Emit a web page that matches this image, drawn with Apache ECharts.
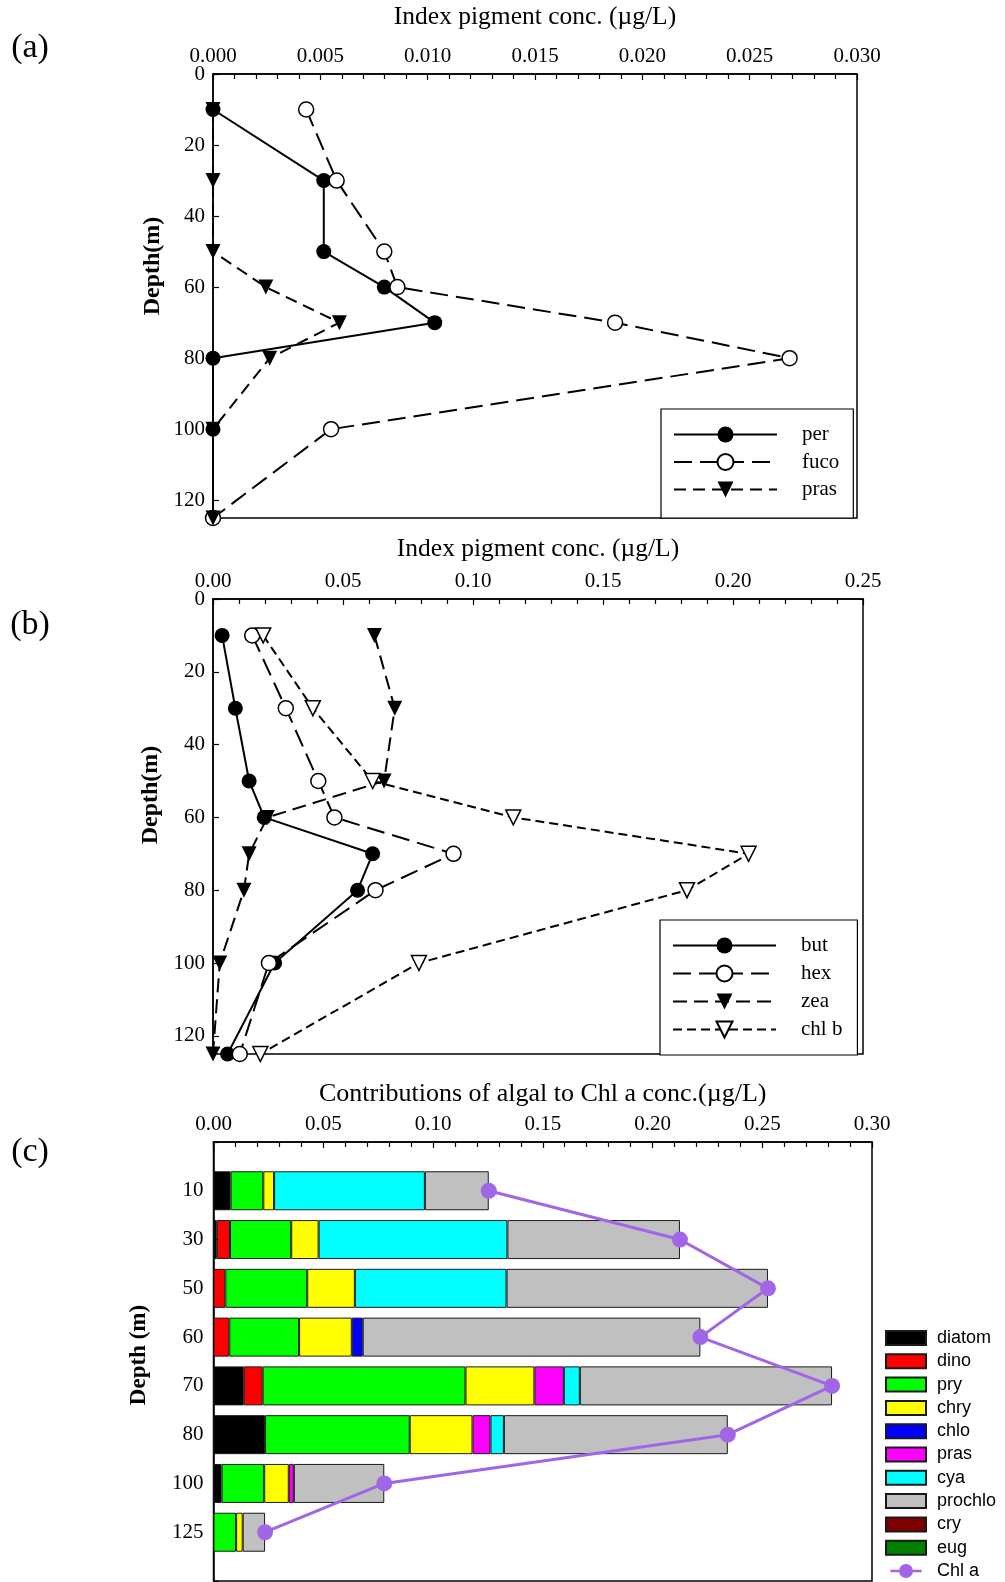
<!DOCTYPE html>
<html><head><meta charset="utf-8">
<script src="https://cdn.jsdelivr.net/npm/echarts@6/dist/echarts.min.js"></script>
<style>html,body{margin:0;padding:0;background:#fff}#c{width:1005px;height:1582px}</style>
</head><body><div id="c"></div><script>
// ---------- Panel (a) ----------
const depthsA = [10, 30, 50, 60, 70, 80, 100, 125];
const per  = [0, 0.00516, 0.00516, 0.00798, 0.01033, 0, 0, 0];
const fuco = [0.00434, 0.00576, 0.00798, 0.00859, 0.01873, 0.02686, 0.00550, 0];
const pras = [0, 0, 0, 0.00246, 0.00589, 0.00264, 0, 0];
const ticksA = [0, 0.005, 0.010, 0.015, 0.020, 0.025, 0.030];

// ---------- Panel (b) ----------
const depthsB = [10, 30, 50, 60, 70, 80, 100, 125];
const but  = [0.0035, 0.0086, 0.0139, 0.0197, 0.0614, 0.0556, 0.0237, 0.0056];
const hex  = [0.0151, 0.0280, 0.0405, 0.0467, 0.0925, 0.0625, 0.0215, 0.0103];
const zea  = [0.0621, 0.0699, 0.0658, 0.0209, 0.0139, 0.0119, 0.0026, 0];
const chlb = [0.0193, 0.0384, 0.0614, 0.1155, 0.2060, 0.1823, 0.0792, 0.0182];
const ticksB = [0, 0.05, 0.10, 0.15, 0.20, 0.25];

// ---------- Panel (c) ----------
const depthsC = ['10', '30', '50', '60', '70', '80', '100', '125'];
const diatom  = [0.0078, 0.0015, 0, 0, 0.0138, 0.0235, 0.0037, 0];
const dino    = [0, 0.0060, 0.0054, 0.0072, 0.0086, 0, 0, 0];
const pry     = [0.0149, 0.0279, 0.0373, 0.0318, 0.0924, 0.0659, 0.0194, 0.0103];
const chry    = [0.0049, 0.0125, 0.0217, 0.0240, 0.0314, 0.0286, 0.0112, 0.0030];
const chlo    = [0, 0, 0, 0.0050, 0, 0, 0, 0];
const prasC   = [0, 0, 0, 0, 0.0134, 0.0082, 0.0023, 0];
const cya     = [0.0687, 0.0860, 0.0691, 0, 0.0073, 0.0061, 0, 0];
const prochlo = [0.0291, 0.0786, 0.1191, 0.1538, 0.1149, 0.1020, 0.0412, 0.0102];
const cry     = [0, 0, 0, 0, 0, 0, 0, 0];
const eug     = [0, 0, 0, 0, 0, 0, 0, 0];
const chla    = [0.1254, 0.2125, 0.2526, 0.2218, 0.2818, 0.2343, 0.0778, 0.0235];
const ticksC = [0, 0.05, 0.10, 0.15, 0.20, 0.25, 0.30];

const serif = '"Liberation Serif", "Times New Roman", serif';
const sans = '"Liberation Sans", Arial, sans-serif';

function xAxisCfg(gi, ticks, dec, title, gap, margin, tfs) {
  return {
    type: 'value', gridIndex: gi, position: 'top',
    min: ticks[0], max: ticks[ticks.length - 1], interval: ticks[1] - ticks[0],
    name: title, nameLocation: 'middle', nameGap: gap,
    nameTextStyle: { fontFamily: serif, fontSize: tfs, color: '#000' },
    axisLine: { show: true, lineStyle: { color: '#000', width: 1.5 } },
    axisTick: { show: true, inside: true, length: 6, lineStyle: { color: '#000', width: 1.2 } },
    minorTick: { show: true, splitNumber: 5, length: 5, lineStyle: { color: '#000', width: 1.2 } },
    splitLine: { show: false }, minorSplitLine: { show: false },
    axisLabel: { margin: margin, fontFamily: serif, fontSize: 21, color: '#000',
      formatter: v => v.toFixed(dec) }
  };
}
function yAxisVal(gi) {
  return {
    type: 'value', gridIndex: gi, inverse: true, min: 0, max: 125, interval: 20,
    axisLine: { show: true, lineStyle: { color: '#000', width: 1.5 } },
    axisTick: { show: true, inside: true, length: 6, lineStyle: { color: '#000', width: 1.2 } },
    splitLine: { show: false },
    axisLabel: { margin: 8, fontFamily: serif, fontSize: 21, color: '#000', showMaxLabel: false }
  };
}
function lineSeries(name, xi, depths, vals, opts) {
  return Object.assign({
    type: 'line', name: name, xAxisIndex: xi, yAxisIndex: xi,
    data: depths.map((d, i) => [vals[i], d]),
    symbolSize: 15, clip: false, silent: true,
    lineStyle: { color: '#000', width: 2 },
    itemStyle: { color: '#000' }
  }, opts);
}
const openItem = { color: '#fff', borderColor: '#000', borderWidth: 1.5 };
const downTri = { symbol: 'triangle', symbolRotate: 180 };

const catC = [''].concat(depthsC).concat(['']);
const pad = arr => ['-'].concat(arr.map(v => v > 0 ? v : '-')).concat(['-']);
function barSeries(name, vals, color) {
  return { type: 'bar', name: name, stack: 'c', xAxisIndex: 2, yAxisIndex: 2,
    barWidth: 39, silent: true, data: pad(vals),
    itemStyle: { color: color, borderColor: '#1a1a1a', borderWidth: 1 } };
}

const legendText = (fs, ff, lh, pl) => ({ fontFamily: ff, fontSize: fs, color: '#000', lineHeight: lh, padding: [0, 0, 0, pl] });

const option = {
  animation: false,
  backgroundColor: '#fff',
  grid: [
    { left: 213, top: 74, width: 644, height: 444, show: true, borderColor: '#000', borderWidth: 1.5, backgroundColor: 'transparent', outerBoundsMode: 'none' },
    { left: 213, top: 599, width: 650, height: 455, show: true, borderColor: '#000', borderWidth: 1.5, backgroundColor: 'transparent', outerBoundsMode: 'none' },
    { left: 213.5, top: 1142, width: 658.5, height: 439, show: true, borderColor: '#000', borderWidth: 1.5, backgroundColor: 'transparent', outerBoundsMode: 'none' }
  ],
  xAxis: [
    xAxisCfg(0, ticksA, 3, 'Index pigment conc. (\u00b5g/L)', 44, 7, 25.5),
    xAxisCfg(1, ticksB, 2, 'Index pigment conc. (\u00b5g/L)', 37, 7.5, 25.5),
    xAxisCfg(2, ticksC, 2, 'Contributions of algal to Chl a conc.(\u00b5g/L)', 35, 7.5, 26)
  ],
  yAxis: [
    yAxisVal(0), yAxisVal(1),
    { type: 'category', gridIndex: 2, inverse: true, data: catC, boundaryGap: false,
      axisLine: { show: true, lineStyle: { color: '#000', width: 1.5 } },
      axisTick: { show: true, inside: true, length: 5, interval: 0, lineStyle: { color: '#000', width: 1.2 } },
      splitLine: { show: false },
      axisLabel: { interval: 0, margin: 10, fontFamily: serif, fontSize: 21, color: '#000' } }
  ],
  legend: [
    { data: ['per', 'fuco', 'pras'], orient: 'vertical', left: 661, top: 409,
      itemWidth: 103, itemHeight: 20, itemGap: 6.5, padding: [15, 14, 18, 12],
      borderColor: '#000', borderWidth: 1.2, backgroundColor: '#fff', selectedMode: false,
      symbolRotate: 'inherit', textStyle: legendText(21, serif, 20, 20) },
    { data: ['but', 'hex', 'zea', 'chl b'], orient: 'vertical', left: 660, top: 920,
      itemWidth: 103, itemHeight: 20, itemGap: 7, padding: [15, 15, 15, 12],
      borderColor: '#000', borderWidth: 1.2, backgroundColor: '#fff', selectedMode: false,
      symbolRotate: 'inherit', textStyle: legendText(21, serif, 20, 20) },
    { data: ['diatom', 'dino', 'pry', 'chry', 'chlo', 'pras ', 'cya', 'prochlo', 'cry', 'eug',
        { name: 'Chl a', icon: 'path://M0,7L40,7L40,10L0,10Z M11,8.5A9,9 0 1,1 29,8.5A9,9 0 1,1 11,8.5Z' }],
      orient: 'vertical', left: 885, top: 1329, icon: 'rect',
      itemWidth: 40, itemHeight: 14, itemGap: 5.3, padding: 0, selectedMode: false,
      formatter: n => n.trim(), textStyle: legendText(18, sans, 18, 6) }
  ],
  graphic: [
    { type: 'text', x: 30, y: 48, style: { text: '(a)', font: '34px ' + serif, fill: '#000', align: 'center', verticalAlign: 'middle' } },
    { type: 'text', x: 30, y: 625, style: { text: '(b)', font: '34px ' + serif, fill: '#000', align: 'center', verticalAlign: 'middle' } },
    { type: 'text', x: 30, y: 1152, style: { text: '(c)', font: '34px ' + serif, fill: '#000', align: 'center', verticalAlign: 'middle' } },
    { type: 'text', x: 153, y: 266, rotation: Math.PI / 2, style: { text: 'Depth(m)', font: 'bold 24px ' + serif, fill: '#000', align: 'center', verticalAlign: 'middle' } },
    { type: 'text', x: 151, y: 795, rotation: Math.PI / 2, style: { text: 'Depth(m)', font: 'bold 24px ' + serif, fill: '#000', align: 'center', verticalAlign: 'middle' } },
    { type: 'text', x: 139, y: 1355, rotation: Math.PI / 2, style: { text: 'Depth (m)', font: 'bold 23px ' + serif, fill: '#000', align: 'center', verticalAlign: 'middle' } }
  ],
  series: [
    lineSeries('per', 0, depthsA, per, { symbol: 'circle' }),
    lineSeries('fuco', 0, depthsA, fuco, { symbol: 'circle', itemStyle: openItem, lineStyle: { color: '#000', width: 2, type: [18, 8] } }),
    lineSeries('pras', 0, depthsA, pras, Object.assign({ lineStyle: { color: '#000', width: 2, type: [12, 7] } }, downTri)),

    lineSeries('but', 1, depthsB, but, { symbol: 'circle' }),
    lineSeries('hex', 1, depthsB, hex, { symbol: 'circle', itemStyle: openItem, lineStyle: { color: '#000', width: 2, type: [18, 8] } }),
    lineSeries('zea', 1, depthsB, zea, Object.assign({ lineStyle: { color: '#000', width: 2, type: [14, 7] } }, downTri)),
    lineSeries('chl b', 1, depthsB, chlb, Object.assign({ itemStyle: openItem, lineStyle: { color: '#000', width: 2, type: [9, 5] } }, downTri)),

    barSeries('diatom', diatom, '#000000'),
    barSeries('dino', dino, '#ff0000'),
    barSeries('pry', pry, '#00ff00'),
    barSeries('chry', chry, '#ffff00'),
    barSeries('chlo', chlo, '#0000ff'),
    barSeries('pras ', prasC, '#ff00ff'),
    barSeries('cya', cya, '#00ffff'),
    barSeries('prochlo', prochlo, '#c0c0c0'),
    barSeries('cry', cry, '#800000'),
    barSeries('eug', eug, '#008000'),
    { type: 'line', name: 'Chl a', xAxisIndex: 2, yAxisIndex: 2, z: 5, silent: true, clip: false,
      data: chla.map((v, i) => [v, i + 1]), symbol: 'circle', symbolSize: 16,
      lineStyle: { color: '#a066e6', width: 3 }, itemStyle: { color: '#a066e6' } }
  ]
};
const chart = echarts.init(document.getElementById('c'), null, { renderer: 'canvas' });
chart.setOption(option);
</script></body></html>
